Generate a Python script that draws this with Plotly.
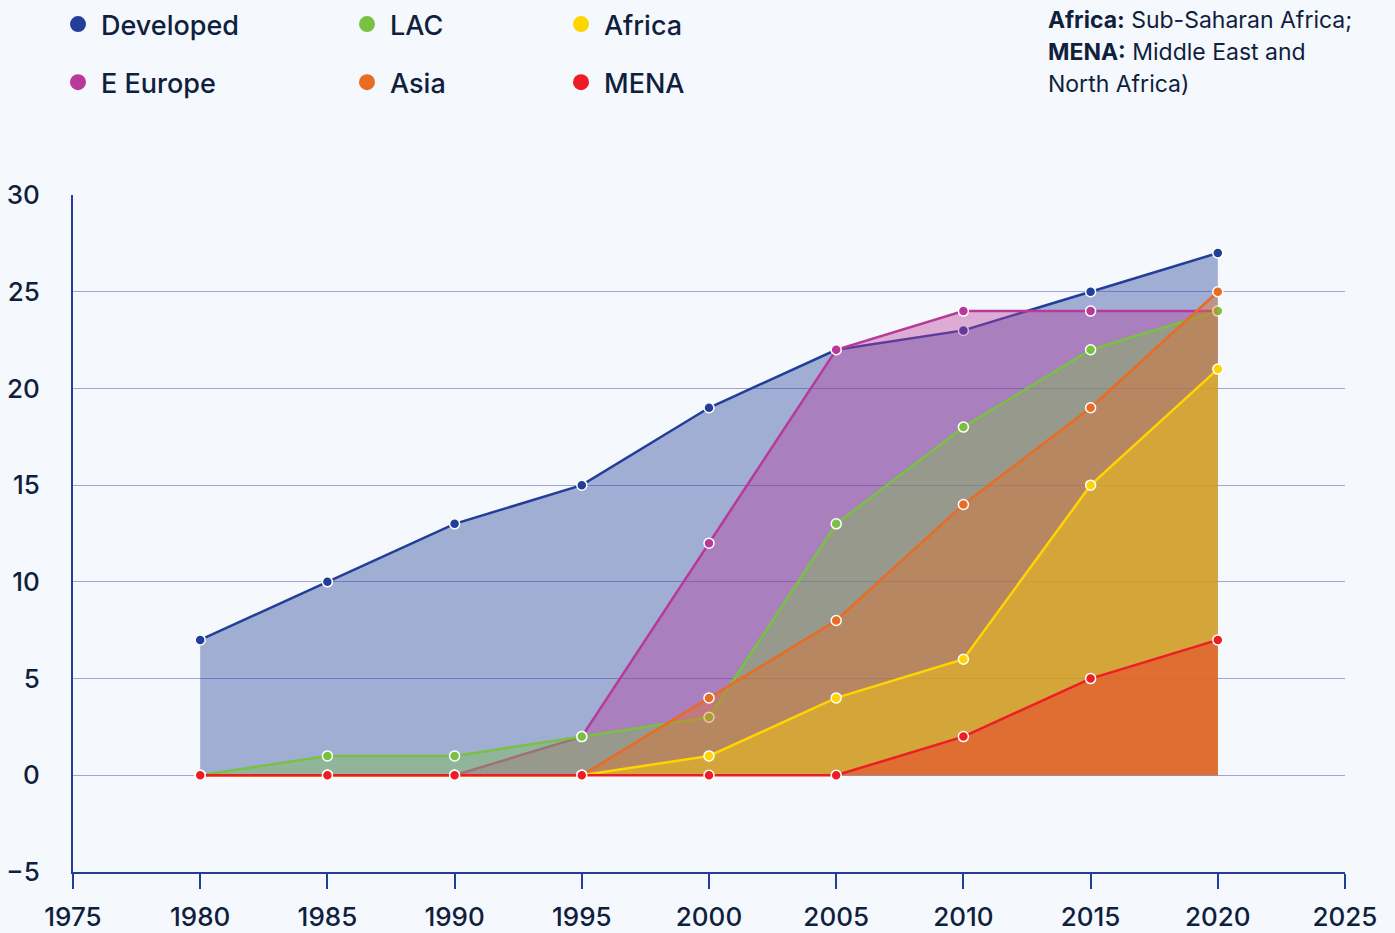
import plotly.graph_objects as go

years = [1980, 1985, 1990, 1995, 2000, 2005, 2010, 2015, 2020]
series_names = ["Developed", "E Europe", "LAC", "Asia", "Africa", "MENA"]
developed = [7, 10, 13, 15, 19, 22, 23, 25, 27]
e_europe = [0, 0, 0, 2, 12, 22, 24, 24, 24]
lac = [0, 1, 1, 2, 3, 13, 18, 22, 24]
asia = [0, 0, 0, 0, 4, 8, 14, 19, 25]
africa = [0, 0, 0, 0, 1, 4, 6, 15, 21]
mena = [0, 0, 0, 0, 0, 0, 2, 5, 7]
values = [developed, e_europe, lac, asia, africa, mena]
colors = ["#233E99", "#B9399A", "#7AC143", "#E86C24", "#FFD500", "#EE1C25"]
legend_ids = ["legend", "legend", "legend2", "legend2", "legend3", "legend3"]

x_ticks = [1975, 1980, 1985, 1990, 1995, 2000, 2005, 2010, 2015, 2020, 2025]
y_ticks = [-5, 0, 5, 10, 15, 20, 25, 30]

BG = "#F5F8FC"
TXT = "#0F1F3D"
FONT = "Inter, Noto Sans, sans-serif"


def rgba(hexc, a):
    h = hexc.lstrip("#")
    r, g, b = int(h[0:2], 16), int(h[2:4], 16), int(h[4:6], 16)
    return f"rgba({r},{g},{b},{a})"


fig = go.Figure()
for name, vals, col in zip(series_names, values, colors):
    fig.add_trace(go.Scatter(
        x=years, y=vals, name=name, mode="lines+markers",
        fill="tozeroy", fillcolor=rgba(col, 0.4),
        line=dict(color=col, width=2.5),
        marker=dict(color=col, size=10, line=dict(color="white", width=1.5)),
        showlegend=False,
    ))

# legend entries (marker-only)
for i, (name, col, lg) in enumerate(zip(series_names, colors, legend_ids)):
    fig.add_trace(go.Scatter(
        x=[None], y=[None], name=name, mode="markers",
        marker=dict(color=col, size=22),
        legend=lg, legendgroup=f"g{i}", showlegend=True,
    ))

leg_common = dict(
    orientation="v", xref="container", yref="container",
    xanchor="left", yanchor="top", bgcolor="rgba(0,0,0,0)",
    font=dict(size=27, color=TXT, family=FONT, weight=500), tracegroupgap=20,
    itemsizing="trace", itemwidth=36,
)
fig.update_layout(
    legend=dict(x=55 / 1395, y=1 - 0 / 933, **leg_common),
    legend2=dict(x=344 / 1395, y=1 - 0 / 933, **leg_common),
    legend3=dict(x=558 / 1395, y=1 - 0 / 933, **leg_common),
)

fig.update_layout(
    width=1395, height=933,
    paper_bgcolor=BG, plot_bgcolor=BG,
    margin=dict(l=73, r=50, t=195, b=61, autoexpand=False),
    font=dict(family=FONT, color=TXT, size=22),
    xaxis=dict(
        range=[1975, 2025], tickvals=x_ticks, showgrid=False,
        showline=True, linecolor="#233E99", linewidth=2,
        ticks="outside", ticklen=15, tickwidth=2, tickcolor="#233E99",
        tickfont=dict(size=26, color=TXT, weight=500), zeroline=False,
        ticklabelstandoff=6,
    ),
    yaxis=dict(
        range=[-5, 30], tickvals=y_ticks, showgrid=True,
        gridcolor="#9FA3DA", gridwidth=1,
        showline=True, linecolor="#233E99", linewidth=2,
        ticks="", tickfont=dict(size=26, color=TXT, weight=500), zeroline=False,
        ticklabelstandoff=26,
    ),
)

note_lines = [
    "<b>Africa:</b> Sub-Saharan Africa;",
    "<b>MENA:</b> Middle East and",
    "North Africa)",
]
for k, t in enumerate(note_lines):
    fig.add_annotation(
        text=t, xref="paper", yref="paper", showarrow=False,
        x=(1046 - 73) / 1272, xanchor="left",
        y=1 + (195 - (20 + 32 * k)) / 677, yanchor="middle",
        font=dict(size=23, color=TXT, family=FONT), align="left",
    )

fig.write_html(
    "out.html",
    config={"displayModeBar": False},
    post_script="document.body.style.margin='0';document.body.style.background='%s';" % BG,
)
